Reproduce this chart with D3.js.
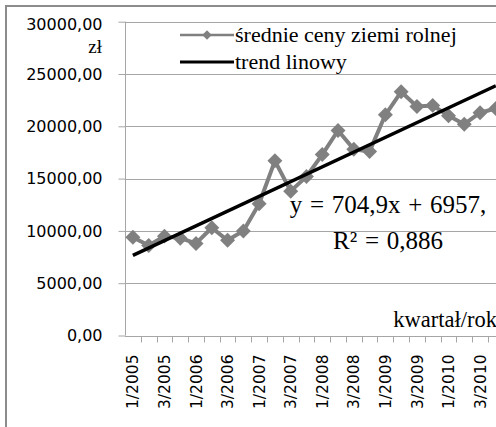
<!DOCTYPE html>
<html>
<head>
<meta charset="utf-8">
<script src="https://cdn.jsdelivr.net/npm/d3@7"></script>
<style>
  body { margin: 0; background: #fff; }
  .serif { font-family: "Liberation Serif", "Times New Roman", serif; fill: #000; }
  .axis text { font-family: "DejaVu Sans", Verdana, sans-serif; fill: #000; }
</style>
</head>
<body>
<svg id="chart" width="496" height="427"></svg>
<script>
// quarters (kwartał/rok)
const quarters = [
  "1/2005", "2/2005", "3/2005", "4/2005",
  "1/2006", "2/2006", "3/2006", "4/2006",
  "1/2007", "2/2007", "3/2007", "4/2007",
  "1/2008", "2/2008", "3/2008", "4/2008",
  "1/2009", "2/2009", "3/2009", "4/2009",
  "1/2010", "2/2010", "3/2010", "4/2010"
];
// średnie ceny ziemi rolnej, zł/ha
const prices = [
  9400, 8600, 9500, 9300,
  8800, 10300, 9100, 10000,
  12600, 16700, 13800, 15200,
  17300, 19600, 17800, 17600,
  21100, 23300, 21900, 22000,
  21000, 20200, 21300, 21700
];
const yTicks = [0, 5000, 10000, 15000, 20000, 25000, 30000];
const xLabels = quarters.filter((q, i) => i % 2 === 0);
const trendSlope = 704.9;
const trendIntercept = 6957;
const seriesName = "średnie ceny ziemi rolnej";
const trendName = "trend linowy";
const eqLines = ["y = 704,9x + 6957,", "R² = 0,886"];

const svg = d3.select("#chart");
const grid = "#a6a6a6";
const seriesColor = "#808080";

const plot = { left: 125, top: 21.7, bottom: 335.5, step: 15.78 };

svg.append("rect").attr("width", 496).attr("height", 427).attr("fill", "#fff");
// outer chart border (right / bottom edges fall outside the picture)
svg.append("rect")
  .attr("x", 6).attr("y", 6).attr("width", 700).attr("height", 700)
  .attr("fill", "none").attr("stroke", "#8c8c8c").attr("stroke-width", 2);

const x = d3.scaleBand()
  .domain(quarters)
  .range([plot.left, plot.left + plot.step * quarters.length])
  .padding(0);

const y = d3.scaleLinear()
  .domain([0, 30000])
  .range([plot.bottom, plot.top]);

const pl = d3.formatLocale({ decimal: ",", thousands: "", grouping: [3], currency: ["", " zł"] });
const fmt = pl.format(".2f");

// horizontal gridlines
svg.append("g")
  .selectAll("line")
  .data(yTicks.filter(d => d > 0))
  .join("line")
    .attr("x1", plot.left).attr("x2", 496)
    .attr("y1", d => Math.round(y(d)) + 0.5).attr("y2", d => Math.round(y(d)) + 0.5)
    .attr("stroke", grid).attr("stroke-width", 1);

// y axis
const yAxis = svg.append("g")
  .attr("class", "axis")
  .attr("transform", `translate(${plot.left + 0.5},0)`)
  .call(d3.axisLeft(y).tickValues(yTicks).tickFormat(fmt).tickSize(7).tickPadding(16));
yAxis.selectAll("path, line").attr("stroke", grid);
yAxis.select(".domain").attr("d", `M0,${plot.top}V${plot.bottom}`);
yAxis.selectAll("text").attr("font-size", 16).attr("fill", "#111");
yAxis.selectAll(".tick").filter(d => d === 30000).select("text").attr("dy", "0.5em");

// x axis
const xAxis = svg.append("g")
  .attr("class", "axis")
  .attr("transform", `translate(0,${Math.round(plot.bottom) + 0.5})`)
  .call(d3.axisBottom(x).tickValues(xLabels).tickSize(0).tickPadding(0));
xAxis.select(".domain").attr("d", `M${plot.left},0H496`).attr("stroke", grid);
xAxis.selectAll("text")
  .attr("font-size", 15.5)
  .attr("fill", "#111")
  .attr("text-anchor", "end")
  .attr("transform", "rotate(-90)")
  .attr("x", -18).attr("y", 0).attr("dy", "0.36em");

// tick marks at category boundaries
xAxis.append("g")
  .selectAll("line")
  .data(quarters)
  .join("line")
    .attr("x1", d => Math.round(x(d) + x.bandwidth()) + 0.5)
    .attr("x2", d => Math.round(x(d) + x.bandwidth()) + 0.5)
    .attr("y1", 0).attr("y2", 6)
    .attr("stroke", grid);

// axis titles
svg.append("text").attr("class", "serif")
  .attr("x", 102).attr("y", 53).attr("text-anchor", "end")
  .attr("font-size", 19).text("zł");
svg.append("text").attr("class", "serif")
  .attr("x", 497).attr("y", 327).attr("text-anchor", "end")
  .attr("font-size", 22.5).text("kwartał/rok");

const cx = d => x(d) + x.bandwidth() / 2;

// series line
svg.append("path")
  .datum(quarters.map((q, i) => [q, prices[i]]))
  .attr("fill", "none")
  .attr("stroke", seriesColor)
  .attr("stroke-width", 4)
  .attr("stroke-linejoin", "round")
  .attr("d", d3.line().x(d => cx(d[0])).y(d => y(d[1])));

// diamond markers
svg.append("g")
  .selectAll("path")
  .data(quarters.map((q, i) => [q, prices[i]]))
  .join("path")
    .attr("d", d3.symbol().type(d3.symbolSquare).size(112))
    .attr("transform", d => `translate(${cx(d[0])},${y(d[1])}) rotate(45)`)
    .attr("fill", seriesColor);

// linear trend
const first = quarters[0], last = quarters[quarters.length - 1];
svg.append("path")
  .datum([[first, 1], [last, quarters.length]])
  .attr("fill", "none")
  .attr("stroke", "#000")
  .attr("stroke-width", 3.5)
  .attr("d", d3.line().x(d => cx(d[0])).y(d => y(trendSlope * d[1] + trendIntercept)));

// trend equation
svg.append("g").selectAll("text")
  .data(eqLines)
  .join("text")
    .attr("class", "serif")
    .attr("x", 388)
    .attr("y", (d, i) => 213 + i * 36)
    .attr("text-anchor", "middle")
    .attr("font-size", 25)
    .attr("word-spacing", 1.5)
    .text(d => d);

// legend
const legend = svg.append("g").attr("transform", "translate(180,0)");
legend.append("line").attr("x1", 0).attr("x2", 54).attr("y1", 35).attr("y2", 35)
  .attr("stroke", seriesColor).attr("stroke-width", 2.5);
legend.append("path")
  .attr("d", d3.symbol().type(d3.symbolSquare).size(45))
  .attr("transform", "translate(27,35) rotate(45)")
  .attr("fill", seriesColor);
legend.append("line").attr("x1", 0).attr("x2", 54).attr("y1", 62).attr("y2", 62)
  .attr("stroke", "#000").attr("stroke-width", 3);
legend.append("text").attr("class", "serif")
  .attr("x", 55).attr("y", 42).attr("font-size", 22).text(seriesName);
legend.append("text").attr("class", "serif")
  .attr("x", 55).attr("y", 69).attr("font-size", 22).text(trendName);
</script>
</body>
</html>
